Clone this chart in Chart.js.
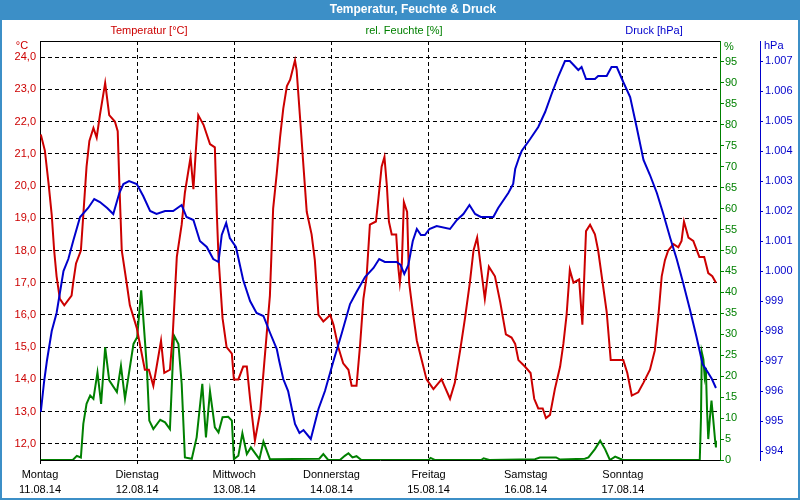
<!DOCTYPE html>
<html>
<head>
<meta charset="utf-8">
<title>Temperatur, Feuchte & Druck</title>
<script src="https://cdn.jsdelivr.net/npm/chart.js@4/dist/chart.umd.min.js"></script>
<style>
  html, body { margin: 0; padding: 0; background: #fff; }
  canvas { display: block; }
</style>
</head>
<body>
<canvas id="wetter" width="800" height="500"></canvas>
<script>
// x axis: hours since Monday 00:00
const dayNames = ['Montag', 'Dienstag', 'Mittwoch', 'Donnerstag', 'Freitag', 'Samstag', 'Sonntag'];
const dayDates = ['11.08.14', '12.08.14', '13.08.14', '14.08.14', '15.08.14', '16.08.14', '17.08.14'];
const dayTicks = [0, 24, 48, 72, 96, 120, 144];

const tempTicks = [12, 13, 14, 15, 16, 17, 18, 19, 20, 21, 22, 23, 24];
const humTicks = [0, 5, 10, 15, 20, 25, 30, 35, 40, 45, 50, 55, 60, 65, 70, 75, 80, 85, 90, 95];
const pressTicks = [994, 995, 996, 997, 998, 999, 1000, 1001, 1002, 1003, 1004, 1005, 1006, 1007];

const tempHours = [0.2, 1.2, 2.1, 2.9, 3.5, 4.1, 4.9, 6.0, 7.8, 8.2, 8.9, 10.1, 10.7, 11.5, 12.2, 13.2, 14.0, 14.8, 16.1, 17.1,
  18.5, 19.2, 19.6, 20.2, 21.4, 22.2, 23.9, 25.9, 26.9, 28.0, 29.9, 30.7, 32.1, 32.8, 33.8, 35.0, 35.8, 37.2, 37.9, 38.5,
  39.1, 40.4, 42.0, 43.2, 43.7, 44.1, 45.1, 46.1, 47.4, 47.9, 49.0, 50.2, 51.1, 51.9, 53.1, 54.4, 56.0, 56.8, 57.6, 58.5,
  59.3, 60.1, 61.0, 61.8, 62.6, 63.0, 63.4, 64.2, 65.1, 65.9, 67.1, 67.9, 68.8, 70.0, 71.7, 72.5, 73.7, 74.9, 76.2, 77.0,
  78.2, 79.1, 79.9, 80.7, 81.5, 83.0, 83.6, 84.4, 85.1, 85.7, 86.2, 86.9, 88.0, 88.5, 88.9, 89.4, 89.9, 90.7, 91.2, 92.1,
  93.1, 94.3, 95.5, 97.2, 99.2, 101.3, 102.5, 103.8, 105.0, 106.2, 107.1, 108.0, 108.9, 109.9, 110.9, 112.4, 113.7, 115.1, 116.5, 117.4,
  118.2, 119.8, 121.2, 122.1, 123.1, 124.2, 125.0, 126.0, 127.2, 128.5, 129.3, 130.1, 130.9, 131.8, 133.2, 133.6, 134.0, 134.4, 134.9, 135.9,
  137.1, 137.9, 139.0, 140.0, 141.0, 142.5, 144.1, 145.1, 146.2, 147.8, 149.1, 150.7, 151.9, 152.8, 153.6, 154.4, 155.2, 156.5, 157.7, 158.5,
  159.1, 160.2, 161.4, 162.9, 164.1, 165.1, 166.1, 167.0];
const tempValues = [21.6, 21.1, 20.1, 19.1, 18.0, 17.2, 16.5, 16.3, 16.6, 17.0, 17.6, 18.0, 19.1, 20.6, 21.4, 21.8, 21.5, 22.2, 23.2, 22.2,
  22.0, 21.7, 20.1, 18.0, 17.0, 16.3, 15.6, 14.3, 14.3, 13.8, 15.2, 14.2, 14.3, 15.4, 17.8, 18.8, 19.8, 20.9, 19.9, 21.1,
  22.2, 21.9, 21.3, 21.2, 19.1, 17.8, 15.9, 15.0, 14.8, 14.0, 14.0, 14.4, 14.4, 13.4, 12.1, 13.0, 15.4, 16.6, 19.3, 20.4,
  21.5, 22.4, 23.1, 23.3, 23.7, 23.9, 23.6, 22.2, 20.6, 19.2, 18.5, 17.7, 16.0, 15.8, 16.0, 15.7, 15.0, 14.5, 14.3, 13.8,
  13.8, 15.1, 16.5, 17.2, 18.8, 18.9, 19.6, 20.6, 20.9, 20.0, 18.9, 18.5, 18.5, 17.5, 17.0, 17.6, 19.5, 19.2, 17.0, 16.1,
  15.2, 14.6, 14.0, 13.7, 14.0, 13.4, 13.9, 14.9, 15.9, 17.0, 18.0, 18.4, 17.5, 16.5, 17.5, 17.2, 16.4, 15.4, 15.3, 15.1,
  14.6, 14.4, 14.2, 13.4, 13.1, 13.1, 12.8, 12.9, 13.7, 14.4, 15.1, 16.0, 17.4, 17.0, 17.1, 16.4, 15.7, 17.0, 18.6, 18.8,
  18.5, 18.0, 17.0, 16.1, 14.6, 14.6, 14.6, 14.2, 13.5, 13.6, 13.9, 14.3, 14.9, 16.0, 17.2, 17.7, 18.0, 18.2, 18.1, 18.3,
  18.9, 18.4, 18.3, 17.8, 17.8, 17.3, 17.2, 17.0];

const humHours = [0.2, 8.1, 9.1, 10.1, 10.7, 11.5, 12.4, 13.2, 14.2, 15.1, 16.1, 17.1, 19.0, 20.0, 21.0, 22.2, 23.1, 24.0, 25.0, 25.5,
  26.4, 27.0, 28.0, 29.7, 30.9, 32.1, 33.1, 34.2, 35.0, 35.8, 37.5, 38.7, 40.1, 41.0, 42.0, 43.2, 44.1, 45.1, 46.5, 47.4,
  47.9, 49.0, 50.0, 51.1, 52.1, 54.2, 55.2, 56.8, 69.0, 70.0, 71.2, 74.1, 75.3, 76.2, 77.2, 78.2, 79.4, 96.0, 96.5, 97.5,
  109.0, 109.6, 111.0, 122.3, 123.5, 127.5, 128.5, 134.6, 135.5, 137.1, 138.4, 139.6, 140.8, 142.1, 143.3, 144.1, 163.0, 163.3, 163.5, 163.9,
  164.2, 164.5, 164.8, 165.1, 165.5, 165.9, 166.3, 166.8, 167.0];
const humValues = [0, 0, 1.0, 0.6, 8.6, 13.4, 15.4, 14.6, 20.9, 13.4, 26.9, 19.0, 16.2, 22.5, 14.6, 22.1, 27.7, 29.3, 40.5, 34.1,
  22.1, 9.4, 7.4, 9.6, 9.0, 7.4, 29.7, 27.7, 18.2, 0.6, 0.3, 5.4, 18.2, 5.4, 16.4, 7.8, 6.6, 10.2, 10.3, 9.4,
  0.2, 1.0, 6.4, 1.4, 3.0, 0.2, 4.4, 0.2, 0.3, 1.4, 0, 0, 1.0, 1.6, 0.6, 0.9, 0, 0, 0.5, 0,
  0, 0.4, 0, 0.2, 0.6, 0.6, 0.1, 0.3, 0.6, 2.6, 4.6, 2.6, 0, 0.8, 0.3, 0, 0, 10, 25.7, 24,
  20, 22, 12, 5, 10, 14.2, 10, 4.6, 3];

const pressHours = [0.2, 1.0, 1.7, 2.9, 4.1, 5.8, 7.0, 8.2, 9.9, 11.9, 13.4, 14.8, 16.6, 18.1, 19.6, 20.6, 22.0, 23.9, 25.5, 27.2,
  28.8, 30.9, 32.9, 35.0, 36.2, 37.9, 39.5, 41.2, 42.8, 44.1, 44.9, 46.0, 46.9, 48.4, 50.2, 51.9, 53.5, 55.2, 56.8, 58.5,
  59.1, 60.1, 61.3, 63.0, 64.1, 65.1, 66.9, 68.8, 70.4, 72.5, 74.5, 76.6, 78.2, 80.3, 82.4, 83.8, 85.2, 88.1, 89.1, 90.0,
  91.0, 92.1, 93.1, 94.1, 95.1, 96.2, 98.0, 101.3, 103.0, 104.6, 106.1, 107.5, 108.9, 112.0, 113.2, 115.7, 116.9, 117.4, 118.4, 119.0,
  121.1, 123.1, 124.8, 126.4, 128.1, 129.7, 130.9, 133.0, 133.8, 134.9, 137.1, 137.9, 140.0, 141.2, 142.5, 144.1, 145.8, 147.4, 149.1, 150.7,
  152.4, 154.0, 155.7, 157.3, 158.9, 160.6, 162.2, 163.7, 165.1, 166.0, 167.0];
const pressValues = [995.3, 996.3, 997.0, 998.0, 998.6, 1000.0, 1000.4, 1001.0, 1001.8, 1002.1, 1002.4, 1002.3, 1002.1, 1001.9, 1002.6, 1002.9, 1003.0, 1002.9, 1002.5, 1002.0,
  1001.9, 1002.0, 1002.0, 1002.2, 1001.8, 1001.7, 1001.0, 1000.8, 1000.4, 1000.3, 1001.2, 1001.6, 1001.1, 1000.8, 999.7, 999.0, 998.6, 998.5, 997.95, 997.4,
  997.0, 996.4, 996.0, 994.9, 994.6, 994.7, 994.4, 995.4, 996.0, 997.0, 997.9, 998.9, 999.3, 999.8, 1000.1, 1000.4, 1000.3, 1000.3, 1000.2, 999.9,
  1000.2, 1001.0, 1001.4, 1001.2, 1001.2, 1001.4, 1001.5, 1001.4, 1001.7, 1001.9, 1002.2, 1001.9, 1001.8, 1001.8, 1002.1, 1002.6, 1002.9, 1003.4, 1003.8, 1004.0,
  1004.4, 1004.8, 1005.3, 1005.9, 1006.5, 1007.0, 1007.0, 1006.7, 1006.8, 1006.4, 1006.4, 1006.5, 1006.5, 1006.8, 1006.8, 1006.3, 1005.8, 1004.8, 1003.7, 1003.2,
  1002.6, 1001.9, 1001.1, 1000.4, 999.6, 998.7, 997.8, 996.9, 996.6, 996.4, 996.1];

const RED = '#cc0000';
const GREEN = '#008000';
const BLUE = '#0000cc';
const BAR = '#3c8fc7';
const FONT = '"Liberation Sans", Arial, sans-serif';

Chart.defaults.font.family = FONT;
Chart.defaults.font.size = 11;

function pairs(xs, ys) {
  return xs.map((x, i) => ({ x: x, y: ys[i] }));
}

function setTicks(list) {
  return function (scale) {
    scale.ticks = list.map(v => ({ value: v }));
  };
}

function fixWidth(w) {
  return function (scale) { scale.width = w; };
}

// frame, title bar and the texts that are not axis labels
const decoration = {
  id: 'decoration',
  beforeDraw(chart) {
    const ctx = chart.ctx;
    ctx.save();
    ctx.fillStyle = '#fff';
    ctx.fillRect(0, 0, chart.width, chart.height);
    ctx.fillStyle = BAR;
    ctx.fillRect(0, 0, chart.width, 20);
    ctx.restore();
  },
  afterDraw(chart) {
    const ctx = chart.ctx;
    const area = chart.chartArea;
    ctx.save();
    ctx.strokeStyle = BAR;
    ctx.lineWidth = 2;
    ctx.strokeRect(1, 1, chart.width - 2, chart.height - 2);

    ctx.strokeStyle = '#000';
    ctx.lineWidth = 1;
    ctx.beginPath();
    ctx.moveTo(area.left, area.top + 0.5);
    ctx.lineTo(area.right, area.top + 0.5);
    ctx.stroke();

    ctx.textBaseline = 'middle';
    ctx.textAlign = 'center';
    ctx.fillStyle = '#fff';
    ctx.font = 'bold 12px ' + FONT;
    ctx.fillText('Temperatur, Feuchte & Druck', 413, 10);

    ctx.font = '11px ' + FONT;
    ctx.fillStyle = RED;
    ctx.fillText('Temperatur [°C]', 149, 31);
    ctx.fillStyle = GREEN;
    ctx.fillText('rel. Feuchte [%]', 404, 31);
    ctx.fillStyle = BLUE;
    ctx.fillText('Druck [hPa]', 654, 31);

    ctx.fillStyle = RED;
    ctx.fillText('°C', 22, 46);
    ctx.textAlign = 'left';
    ctx.fillStyle = GREEN;
    ctx.fillText('%', 724, 47);
    ctx.fillStyle = BLUE;
    ctx.fillText('hPa', 764, 46);
    ctx.restore();
  }
};

new Chart(document.getElementById('wetter'), {
  type: 'line',
  data: {
    datasets: [
      { label: 'Druck', data: pairs(pressHours, pressValues), yAxisID: 'yP', borderColor: BLUE, borderWidth: 2 },
      { label: 'Temperatur', data: pairs(tempHours, tempValues), yAxisID: 'yT', borderColor: RED, borderWidth: 2 },
      { label: 'rel. Feuchte', data: pairs(humHours, humValues), yAxisID: 'yH', borderColor: GREEN, borderWidth: 2 }
    ]
  },
  options: {
    responsive: false,
    animation: false,
    devicePixelRatio: 1,
    elements: { point: { radius: 0 }, line: { tension: 0 } },
    layout: { padding: { top: 41, left: 0, right: 0, bottom: 0 } },
    plugins: { legend: { display: false }, tooltip: { enabled: false } },
    scales: {
      x: {
        type: 'linear',
        min: 0,
        max: 168,
        afterBuildTicks: setTicks(dayTicks),
        afterFit: scale => { scale.height = 40; },
        grid: { color: '#000', tickLength: 4 },
        border: { color: '#000', dash: [4, 3] },
        ticks: {
          color: '#000',
          autoSkip: false,
          maxRotation: 0,
          padding: 4,
          font: { size: 11, lineHeight: 1.32 },
          callback: v => [dayNames[v / 24], dayDates[v / 24]]
        }
      },
      yT: {
        position: 'left',
        min: 11.5,
        max: 24.5,
        afterBuildTicks: setTicks(tempTicks),
        afterFit: fixWidth(40),
        grid: { color: '#000', drawTicks: false },
        border: { color: '#000', dash: [4, 3] },
        ticks: { color: RED, padding: 4, callback: v => v.toFixed(1).replace('.', ',') }
      },
      yH: {
        position: 'right',
        min: 0,
        max: 100,
        afterBuildTicks: setTicks(humTicks),
        afterFit: fixWidth(40),
        grid: { drawOnChartArea: false, color: GREEN, tickLength: 4 },
        border: { color: GREEN },
        ticks: { color: GREEN, padding: 1, callback: v => String(v) }
      },
      yP: {
        position: 'right',
        min: 993.7,
        max: 1007.667,
        afterBuildTicks: setTicks(pressTicks),
        afterFit: fixWidth(40),
        grid: { drawOnChartArea: false, color: BLUE, tickLength: 3 },
        border: { color: BLUE },
        ticks: {
          color: BLUE,
          padding: 2,
          callback: v => v >= 1000 ? '1.' + String(v - 1000).padStart(3, '0') : String(v)
        }
      }
    }
  },
  plugins: [decoration]
});
</script>
</body>
</html>
